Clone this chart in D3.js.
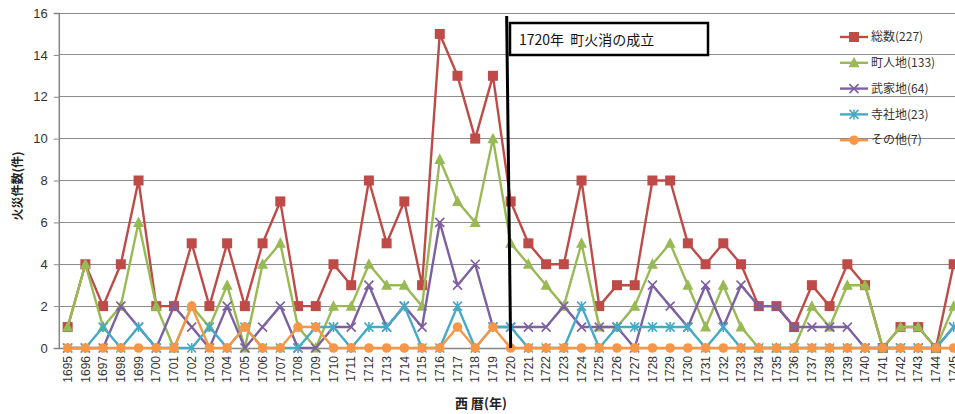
<!DOCTYPE html>
<html>
<head>
<meta charset="utf-8">
<script src="https://cdn.jsdelivr.net/npm/d3@7"></script>
<style>
  html, body { margin: 0; padding: 0; background: #fff; overflow: hidden; }
  svg { display: block; }
  text { font-family: "Liberation Sans", "Noto Sans CJK JP", sans-serif; }
  .jp { font-family: "Noto Sans CJK JP", sans-serif; }
</style>
</head>
<body>
<svg id="chart" width="955" height="414"></svg>
<script>
// Fires per year in Edo, 1695–1745
const years = d3.range(1695, 1746).map(String);

const total   = [1,4,2,4,8,2,2,5,2,5, 2,5,7,2,2,4,3,8,5,7, 3,15,13,10,13,7,5,4,4,8, 2,3,3,8,8,5,4,5,4,2, 2,1,3,2,4,3,0,1,1,0, 4];
const chonin  = [1,4,1,2,6,2,0,2,1,3, 0,4,5,1,0,2,2,4,3,3, 2,9,7,6,10,5,4,3,2,5, 1,1,2,4,5,3,1,3,1,0, 0,0,2,1,3,3,0,1,1,0, 2];
const buke    = [0,0,0,2,1,0,2,1,0,2, 0,1,2,0,0,1,1,3,1,2, 1,6,3,4,1,1,1,1,2,1, 1,1,0,3,2,1,3,1,3,2, 2,1,1,1,1,0,0,0,0,0, 1];
const jisha   = [0,0,1,0,1,0,0,0,1,0, 1,0,0,0,1,1,0,1,1,2, 0,0,2,0,1,1,0,0,0,2, 0,1,1,1,1,1,0,1,0,0, 0,0,0,0,0,0,0,0,0,0, 1];
const other   = [0,0,0,0,0,0,0,2,0,0, 1,0,0,1,1,0,0,0,0,0, 0,0,1,0,1,0,0,0,0,0, 0,0,0,0,0,0,0,0,0,0, 0,0,0,0,0,0,0,0,0,0, 0];

const seriesNames = ["総数(227)", "町人地(133)", "武家地(64)", "寺社地(23)", "その他(7)"];
const yTicks = [0, 2, 4, 6, 8, 10, 12, 14, 16];
const markYear = "1720";
const noteText = "1720年\u00a0\u00a0町火消の成立";

const series = [
  { name: seriesNames[0], values: total,  color: "#BE4B48", marker: "square" },
  { name: seriesNames[1], values: chonin, color: "#98B954", marker: "triangle" },
  { name: seriesNames[2], values: buke,   color: "#7D60A0", marker: "x" },
  { name: seriesNames[3], values: jisha,  color: "#46AAC5", marker: "star" },
  { name: seriesNames[4], values: other,  color: "#F79646", marker: "circle" }
];

const svg = d3.select("#chart");
const plot = { left: 58.8, top: 13, bottom: 348, step: 17.72 };
plot.right = plot.left + plot.step * years.length;

const x = d3.scaleBand().domain(years).range([plot.left, plot.right]).paddingInner(0).paddingOuter(0);
const cx = d => x(d) + x.bandwidth() / 2;
const y = d3.scaleLinear().domain([0, 16]).range([plot.bottom, plot.top]);

// Horizontal gridlines
svg.append("g").selectAll("line").data(yTicks.filter(t => t > 0)).join("line")
  .attr("x1", plot.left).attr("x2", plot.right)
  .attr("y1", d => y(d)).attr("y2", d => y(d))
  .attr("stroke", "#8c8c8c").attr("stroke-width", 1).attr("shape-rendering", "crispEdges");

// Y axis
const yAxis = svg.append("g").attr("transform", `translate(${plot.left},0)`)
  .call(d3.axisLeft(y).tickValues(yTicks).tickSize(5).tickPadding(6).tickFormat(d3.format("d")));
yAxis.select(".domain").attr("stroke", "#868686").attr("stroke-width", 1.5);
yAxis.selectAll(".tick line").attr("stroke", "#868686");
yAxis.selectAll(".tick text").attr("font-size", 13).attr("fill", "#333");

// X axis
const xAxis = svg.append("g").attr("transform", `translate(0,${plot.bottom})`)
  .call(d3.axisBottom(x).tickSize(0).tickPadding(0));
xAxis.select(".domain").attr("stroke", "#868686").attr("stroke-width", 1.5);
xAxis.selectAll(".tick text")
  .attr("font-size", 12).attr("fill", "#333")
  .attr("text-anchor", "end").attr("dy", "0.35em")
  .attr("transform", "translate(0,8) rotate(-90)");

// Axis titles
svg.append("text").attr("class", "jp")
  .attr("x", 481).attr("y", 408).attr("text-anchor", "middle")
  .attr("font-size", 13).attr("font-weight", "bold").attr("fill", "#222")
  .text("西 暦(年)");
svg.append("text").attr("class", "jp")
  .attr("transform", "translate(22,186) rotate(-90)").attr("text-anchor", "middle")
  .attr("font-size", 12).attr("font-weight", "bold").attr("fill", "#222")
  .text("火災件数(件)");

// Marker shapes
function drawMarker(g, type, color) {
  if (type === "square") {
    g.append("rect").attr("x", -5).attr("y", -5).attr("width", 10).attr("height", 10).attr("fill", color);
  } else if (type === "triangle") {
    g.append("path").attr("d", "M0,-6L5.5,4.5L-5.5,4.5Z").attr("fill", color);
  } else if (type === "x") {
    g.append("path").attr("d", "M-4.5,-4.5L4.5,4.5M-4.5,4.5L4.5,-4.5").attr("stroke", color).attr("stroke-width", 1.6);
  } else if (type === "star") {
    g.append("path").attr("d", "M-4.5,-4.5L4.5,4.5M-4.5,4.5L4.5,-4.5M0,-5L0,5").attr("stroke", color).attr("stroke-width", 1.6);
  } else if (type === "circle") {
    g.append("circle").attr("r", 4.8).attr("fill", color);
  }
}

const line = d3.line().x((d, i) => cx(years[i])).y(d => y(d));

// Series lines and markers
series.forEach(s => {
  const g = svg.append("g");
  g.append("path").datum(s.values).attr("d", line)
    .attr("fill", "none").attr("stroke", s.color).attr("stroke-width", 2.4).attr("stroke-linejoin", "round");
  s.values.forEach((v, i) => {
    const m = g.append("g").attr("transform", `translate(${cx(years[i])},${y(v)})`);
    drawMarker(m, s.marker, s.color);
  });
});

// Marker line for 1720
svg.append("line")
  .attr("x1", cx(markYear) - 4).attr("y1", plot.top + 3)
  .attr("x2", cx(markYear)).attr("y2", plot.bottom)
  .attr("stroke", "#000").attr("stroke-width", 3);

// Annotation box
svg.append("rect").attr("x", 510).attr("y", 23).attr("width", 198).attr("height", 32)
  .attr("fill", "#fff").attr("stroke", "#000").attr("stroke-width", 2.5);
svg.append("text").attr("class", "jp")
  .attr("x", 519).attr("y", 45).attr("font-size", 14).attr("fill", "#111")
  .text(noteText);

// Legend
const legend = svg.append("g");
series.forEach((s, i) => {
  const ly = 37 + i * 25.8;
  const row = legend.append("g").attr("transform", `translate(0,${ly})`);
  row.append("line").attr("x1", 840).attr("x2", 868).attr("y1", 0).attr("y2", 0)
    .attr("stroke", s.color).attr("stroke-width", 2.4);
  const m = row.append("g").attr("transform", "translate(854,0)");
  drawMarker(m, s.marker, s.color);
  row.append("text").attr("class", "jp").attr("x", 871).attr("y", 0).attr("dy", "0.35em")
    .attr("font-size", 12).attr("fill", "#333").text(s.name);
});
</script>
</body>
</html>
